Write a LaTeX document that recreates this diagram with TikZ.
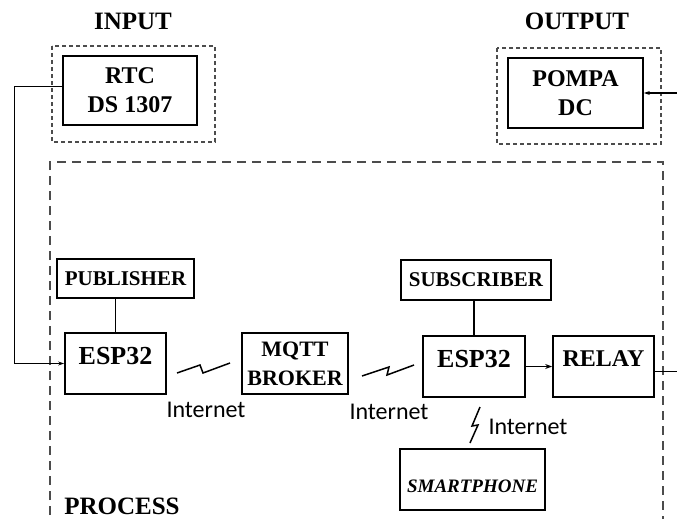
\documentclass[tikz,border=0pt]{standalone}
\usepackage{fontspec}
\setmainfont{Liberation Serif}
\newfontfamily\netfont{Carlito}
\usetikzlibrary{arrows.meta}

\begin{document}
\begin{tikzpicture}[x=1pt,y=-1pt,
    blok/.style={draw,line width=1.7pt,align=center,inner sep=0pt,font=\bfseries\fontsize{24}{29}\selectfont},
    grup/.style={draw=black!70,line width=1.1pt,dash pattern=on 4pt off 3pt},
    judul/.style={font=\bfseries\fontsize{25}{30}\selectfont},
    net/.style={font=\netfont\fontsize{24}{28}\selectfont},
    zig/.style={line width=1.5pt,line join=miter}]
  \useasboundingbox (0,0) rectangle (677,519);
  \node[judul] (input) at (133,21) {INPUT};
  \node[judul] (output) at (577,21) {OUTPUT};
  \node[judul] (process) at (122,506) {PROCESS};
  \draw[grup] (52,46) rectangle (215,142);
  \draw[grup] (497,48) rectangle (661,144);
  \draw[grup,dash pattern=on 9pt off 6pt] (50,530) -- (50,162) -- (663,162) -- (663,530);
  \node[blok,minimum width=134pt,minimum height=69pt] (rtc) at (130,90.5) {RTC\\DS 1307};
  \node[blok,minimum width=135pt,minimum height=70pt] (pompa) at (575.5,93) {POMPA\\DC};
  \node[blok,minimum width=137pt,minimum height=39pt,font=\bfseries\fontsize{21}{25}\selectfont] (pub) at (125.5,278.5) {PUBLISHER};
  \node[blok,minimum width=101pt,text height=31pt,text depth=30pt,font=\bfseries\fontsize{26}{30}\selectfont] (esp1) at (115.5,363.5) {ESP32};
  \node[blok,minimum width=106pt,minimum height=61pt,font=\bfseries\fontsize{22}{29}\selectfont] (mqtt) at (295,363.5) {MQTT\\BROKER};
  \node[blok,minimum width=150pt,minimum height=40pt,font=\bfseries\fontsize{21}{25}\selectfont] (sub) at (476,280) {SUBSCRIBER};
  \node[blok,minimum width=102pt,text height=31pt,text depth=30pt,font=\bfseries\fontsize{26}{30}\selectfont] (esp2) at (474,366.5) {ESP32};
  \node[blok,minimum width=101pt,text height=30pt,text depth=31pt] (relay) at (603.5,366.5) {RELAY};
  \node[blok,minimum width=145pt,text height=43pt,text depth=18pt,font=\bfseries\itshape\fontsize{19}{23}\selectfont] (phone) at (472.5,479.5) {SMARTPHONE};
  \node[net] (int1) at (206,410) {Internet};
  \node[net] (int2) at (389,412) {Internet};
  \node[net] (int3) at (528,427) {Internet};
  \draw[line width=1.2pt,-{Stealth[length=6pt,width=4pt]}] ([yshift=4pt]rtc.west) -- ++(-48,0) |- (esp1.west);
  \draw[line width=1.6pt] (esp1.north) -- (esp1.north |- pub.south);
  \draw[line width=1.6pt] (esp2.north) -- (esp2.north |- sub.south);
  \draw[line width=1.6pt,-{Stealth[length=7pt,width=5pt]}] (esp2.east) -- (relay.west);
  \draw[line width=1.2pt,-{Stealth[length=6pt,width=4pt]}] ([yshift=-5pt]relay.east) -- ++(40,0) |- (pompa.east);
  \draw[zig] (177,373) -- (200,365) -- (203,373) -- (230,363);
  \draw[zig] (362,376) -- (389,367) -- (387,375) -- (414,365);
  \draw[zig] (480,407) -- (472,426) -- (478,425) -- (470,443);
\end{tikzpicture}
\end{document}
